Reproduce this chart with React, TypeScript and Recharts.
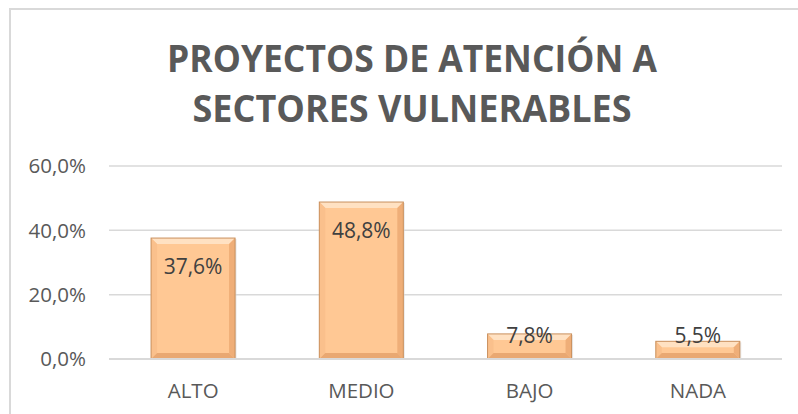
import React from 'react';
import { BarChart, Bar, XAxis, YAxis, CartesianGrid, LabelList } from 'recharts';

const categories = ['ALTO', 'MEDIO', 'BAJO', 'NADA'];
const values = [37.6, 48.8, 7.8, 5.5];
const yTicks = [0, 20, 40, 60];
const titleLines = ['PROYECTOS DE ATENCIÓN A', 'SECTORES VULNERABLES'];

const data = categories.map((c, i) => ({ name: c, value: values[i] }));

const FONT = '"Open Sans", "Liberation Sans", sans-serif';
const fmt = (v: number) => v.toFixed(1).replace('.', ',') + '%';

const BevelBar = (props: any) => {
  const { x, y, width: w, height: h } = props;
  if (!h || h <= 0) return null;
  const b = Math.min(6, h / 2);
  return (
    <g>
      <rect x={x + 1.5} y={y + 1} width={w} height={h} fill="#d8d8d8" opacity={0.6} />
      <rect x={x} y={y} width={w} height={h} fill="#FFC894" />
      <polygon points={`${x},${y} ${x + w},${y} ${x + w - b},${y + b} ${x + b},${y + b}`} fill="#FFE1C2" />
      <polygon points={`${x},${y} ${x + b},${y + b} ${x + b},${y + h - b} ${x},${y + h}`} fill="#FAC08C" />
      <polygon points={`${x + w},${y} ${x + w - b},${y + b} ${x + w - b},${y + h - b} ${x + w},${y + h}`} fill="#EFAE78" />
      <polygon points={`${x},${y + h} ${x + b},${y + h - b} ${x + w - b},${y + h - b} ${x + w},${y + h}`} fill="#E9A872" />
      <rect x={x} y={y} width={w} height={h} fill="none" stroke="#C9905E" strokeWidth={1} />
    </g>
  );
};

const ValueLabel = (props: any) => {
  const { x, y, width, height, value } = props;
  const cy = Math.min(y + 28, y + height - 24);
  return (
    <text
      x={x + width / 2}
      y={cy}
      textAnchor="middle"
      dominantBaseline="central"
      fontFamily={FONT}
      fontSize={21}
      fill="#404040"
    >
      {fmt(value)}
    </text>
  );
};

export default function App() {
  return (
    <div style={{ position: 'absolute', left: 0, top: 0, width: 798, height: 414, background: '#fff', overflow: 'hidden' }}>
      <svg width={798} height={414} style={{ position: 'absolute', left: 0, top: 0 }}>
        <rect x={10} y={9} width={800} height={420} fill="#fff" stroke="#d9d9d9" strokeWidth={2} />
        <text x={412} y={72} textAnchor="middle" fontFamily={FONT} fontWeight="bold" fontSize={38} fill="#595959" textLength={490} lengthAdjust="spacingAndGlyphs">
          {titleLines[0]}
        </text>
        <text x={412} y={122} textAnchor="middle" fontFamily={FONT} fontWeight="bold" fontSize={38} fill="#595959" textLength={439} lengthAdjust="spacingAndGlyphs">
          {titleLines[1]}
        </text>
      </svg>
      <div style={{ position: 'absolute', left: 0, top: 0 }}>
        <BarChart width={798} height={414} data={data} margin={{ top: 166, right: 16, bottom: 0, left: 0 }} barCategoryGap="25%">
          <CartesianGrid vertical={false} stroke="#d9d9d9" strokeWidth={1.5} />
          <XAxis
            dataKey="name"
            axisLine={{ stroke: '#d9d9d9', strokeWidth: 2 }}
            tickLine={false}
            tickMargin={18}
            tick={{ fontFamily: FONT, fontSize: 20.5, fill: '#595959' }}
            height={55}
          />
          <YAxis
            domain={[0, 60]}
            ticks={yTicks}
            width={109}
            axisLine={false}
            tickLine={false}
            tickMargin={17}
            tickFormatter={fmt}
            tick={{ fontFamily: FONT, fontSize: 20.5, fill: '#595959' }}
          />
          <Bar dataKey="value" shape={<BevelBar />} isAnimationActive={false}>
            <LabelList dataKey="value" content={<ValueLabel />} />
          </Bar>
        </BarChart>
      </div>
    </div>
  );
}
